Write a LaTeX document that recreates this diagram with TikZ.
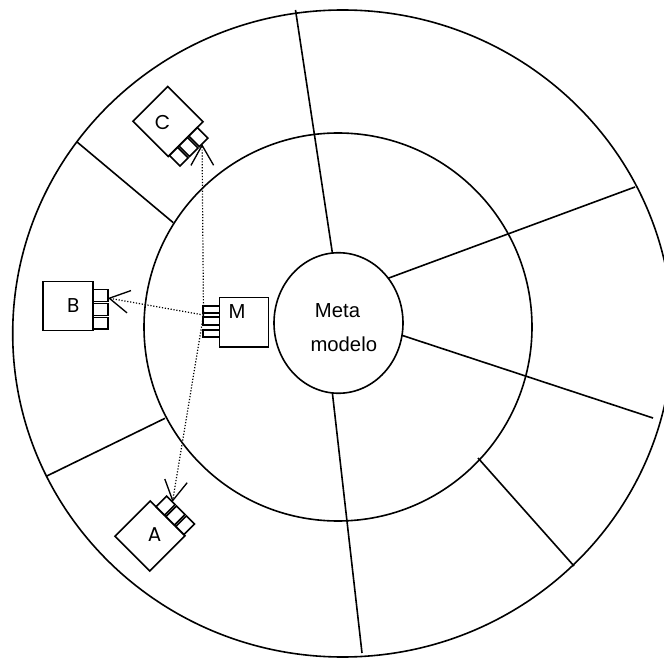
\documentclass[tikz,border=0pt]{standalone}
\usepackage{fontspec}
\setmainfont{Liberation Sans}
\newfontfamily\gothic{Poppins}
\usetikzlibrary{arrows.meta,shapes.geometric}

\tikzset{
  ring/.style={line width=1.2pt},
  wall/.style={line width=1.2pt},
  link/.style={line width=0.9pt, dash pattern=on 0.9pt off 1.3pt,
    -{Straight Barb[length=15pt,width=17pt,line width=1pt]}},
  % a pic is set up with y pointing up
  comp/.pic={
    \draw[wall] (-25,-24.5) rectangle (25,24.5);
    \draw[wall] (25,16.5) rectangle (40,4.5);
    \draw[wall] (25,2.5) rectangle (40,-9.5);
    \draw[wall] (25,-11.5) rectangle (40,-23);
    \coordinate (-tip) at (40,8.2);
  },
}

\begin{document}
\begin{tikzpicture}[x=0.75pt,y=0.75pt,yscale=-1,xscale=1]
\useasboundingbox (0,0) rectangle (664,659);

%Rings
\draw[ring] (342.7,333.5) ellipse (330 and 323.5);
\draw[ring] (338,327) circle (194);
\node[draw, ring, ellipse, minimum width=96.75pt, minimum height=105.4pt, inner sep=0pt, outer sep=0pt] (meta) at (338.5,323) {};
\node[anchor=base, font=\fontsize{15.2}{18}\selectfont] (metaA) at (337.5,318) {Meta};
\node[anchor=base, font=\fontsize{15.2}{18}\selectfont] (metaB) at (343.8,351.7) {modelo};

%Spokes
\coordinate (s1) at (295.5,10);
\coordinate (s2) at (635,187);
\coordinate (s3) at (653,418);
\coordinate (s4) at (362,653);
\draw[wall] (meta.95.8) -- (s1);
\draw[wall] (meta.42.2) -- (s2);
\draw[wall] (meta.349.5) -- (s3);
\draw[wall] (meta.265.5) -- (s4);
%Short walls
\draw[wall] (478,458) -- (574,566);
\draw[wall] (76.7,141.7) -- (173.3,222.7);
\draw[wall] (46,476.4) -- (165,418.3);

%Component M
\node[draw, wall, minimum width=36.75pt, minimum height=36.75pt, inner sep=0pt, outer sep=0pt] (M) at (243.8,322.2) {};
\draw[wall] (202.7,306) rectangle (219.3,313.3);
\draw[wall] (202.7,317.3) rectangle (219.3,325);
\draw[wall] (202.7,330) rectangle (219.3,337.3);
\coordinate (M-tip) at (203.5,315);
\node[anchor=base, font=\fontsize{15.2}{18}\selectfont] (Mlbl) at (237,318.3) {M};

%Components A, B, C
\pic (B) at (68,306.2) {comp};
\pic[rotate=-45] (C) at (168,121.5) {comp};
\pic[rotate=45] (A) at (150,536) {comp};
\node[font=\gothic\fontsize{15}{18}\selectfont] (Blbl) at (73.3,305.2) {B};
\node[font=\gothic\fontsize{15}{18}\selectfont] (Clbl) at (162.5,123) {C};
\node[font=\gothic\fontsize{15}{18}\selectfont] (Albl) at (154.5,535) {A};

%Links
\draw[link] (M-tip) -- (B-tip);
\draw[link] (M-tip) -- (C-tip);
\draw[link] (M-tip) -- (A-tip);

\end{tikzpicture}
\end{document}
